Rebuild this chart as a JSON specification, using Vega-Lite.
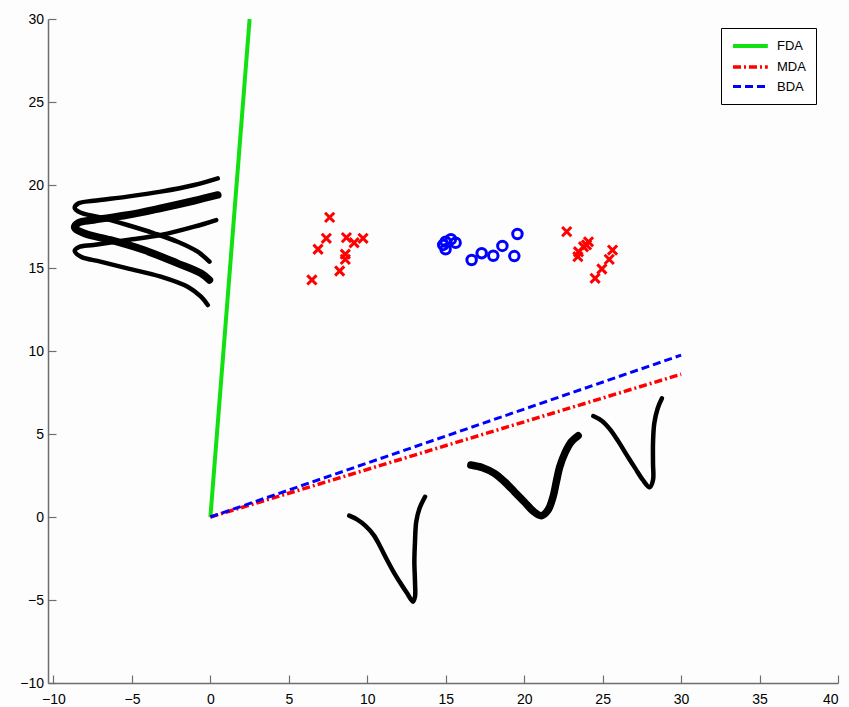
{
  "$schema": "https://vega.github.io/schema/vega-lite/v6.json",
  "width": 790,
  "height": 664,
  "autosize": {"type": "none"},
  "padding": {"left": 48, "top": 19, "right": 11, "bottom": 24},
  "background": "#fdfdfd",
  "config": {
    "view": {"stroke": null},
    "axis": {
      "grid": false,
      "domainColor": "#6e6e6e",
      "domainWidth": 1.5,
      "tickColor": "#6e6e6e",
      "tickWidth": 1.2,
      "tickSize": -8,
      "labelFont": "Liberation Sans",
      "labelFontSize": 14,
      "labelColor": "#000000",
      "title": null
    },
    "legend": {
      "labelFont": "Liberation Sans",
      "labelFontSize": 13,
      "labelColor": "#000000"
    }
  },
  "datasets": {
    "curves": [
      {"curve": "A", "i": 0, "x": 0.47, "y": 20.40},
      {"curve": "A", "i": 1, "x": -1.03, "y": 20.00},
      {"curve": "A", "i": 2, "x": -3.16, "y": 19.60},
      {"curve": "A", "i": 3, "x": -5.29, "y": 19.30},
      {"curve": "A", "i": 4, "x": -7.44, "y": 19.05},
      {"curve": "A", "i": 5, "x": -8.40, "y": 18.90},
      {"curve": "A", "i": 6, "x": -8.65, "y": 18.62},
      {"curve": "A", "i": 7, "x": -8.25, "y": 18.33},
      {"curve": "A", "i": 8, "x": -7.01, "y": 18.05},
      {"curve": "A", "i": 9, "x": -5.29, "y": 17.59},
      {"curve": "A", "i": 10, "x": -3.59, "y": 17.09},
      {"curve": "A", "i": 11, "x": -2.09, "y": 16.58},
      {"curve": "A", "i": 12, "x": -0.81, "y": 15.98},
      {"curve": "A", "i": 13, "x": -0.06, "y": 15.38},
      {"curve": "B", "i": 0, "x": 0.47, "y": 19.40},
      {"curve": "B", "i": 1, "x": -1.03, "y": 19.05},
      {"curve": "B", "i": 2, "x": -3.16, "y": 18.60},
      {"curve": "B", "i": 3, "x": -5.29, "y": 18.19},
      {"curve": "B", "i": 4, "x": -7.44, "y": 17.89},
      {"curve": "B", "i": 5, "x": -8.40, "y": 17.73},
      {"curve": "B", "i": 6, "x": -8.65, "y": 17.45},
      {"curve": "B", "i": 7, "x": -8.05, "y": 17.09},
      {"curve": "B", "i": 8, "x": -6.37, "y": 16.69},
      {"curve": "B", "i": 9, "x": -4.23, "y": 16.08},
      {"curve": "B", "i": 10, "x": -2.09, "y": 15.28},
      {"curve": "B", "i": 11, "x": -0.60, "y": 14.68},
      {"curve": "B", "i": 12, "x": -0.06, "y": 14.28},
      {"curve": "C", "i": 0, "x": 0.37, "y": 17.89},
      {"curve": "C", "i": 1, "x": -1.03, "y": 17.49},
      {"curve": "C", "i": 2, "x": -3.16, "y": 16.99},
      {"curve": "C", "i": 3, "x": -5.29, "y": 16.69},
      {"curve": "C", "i": 4, "x": -7.44, "y": 16.39},
      {"curve": "C", "i": 5, "x": -8.40, "y": 16.25},
      {"curve": "C", "i": 6, "x": -8.65, "y": 16.02},
      {"curve": "C", "i": 7, "x": -8.25, "y": 15.68},
      {"curve": "C", "i": 8, "x": -7.01, "y": 15.38},
      {"curve": "C", "i": 9, "x": -5.29, "y": 14.98},
      {"curve": "C", "i": 10, "x": -3.16, "y": 14.48},
      {"curve": "C", "i": 11, "x": -1.45, "y": 13.87},
      {"curve": "C", "i": 12, "x": -0.60, "y": 13.27},
      {"curve": "C", "i": 13, "x": -0.17, "y": 12.77},
      {"curve": "D", "i": 0, "x": 8.85, "y": 0.08},
      {"curve": "D", "i": 1, "x": 9.34, "y": -0.14},
      {"curve": "D", "i": 2, "x": 9.87, "y": -0.52},
      {"curve": "D", "i": 3, "x": 10.41, "y": -1.09},
      {"curve": "D", "i": 4, "x": 10.83, "y": -1.79},
      {"curve": "D", "i": 5, "x": 11.26, "y": -2.59},
      {"curve": "D", "i": 6, "x": 11.69, "y": -3.33},
      {"curve": "D", "i": 7, "x": 12.12, "y": -3.99},
      {"curve": "D", "i": 8, "x": 12.54, "y": -4.60},
      {"curve": "D", "i": 9, "x": 12.91, "y": -5.10},
      {"curve": "D", "i": 10, "x": 13.04, "y": -4.80},
      {"curve": "D", "i": 11, "x": 13.04, "y": -3.90},
      {"curve": "D", "i": 12, "x": 13.00, "y": -2.69},
      {"curve": "D", "i": 13, "x": 13.04, "y": -1.49},
      {"curve": "D", "i": 14, "x": 13.12, "y": -0.28},
      {"curve": "D", "i": 15, "x": 13.33, "y": 0.52},
      {"curve": "D", "i": 16, "x": 13.68, "y": 1.22},
      {"curve": "E", "i": 0, "x": 16.60, "y": 3.13},
      {"curve": "E", "i": 1, "x": 17.35, "y": 2.97},
      {"curve": "E", "i": 2, "x": 18.10, "y": 2.63},
      {"curve": "E", "i": 3, "x": 18.74, "y": 2.13},
      {"curve": "E", "i": 4, "x": 19.38, "y": 1.52},
      {"curve": "E", "i": 5, "x": 20.03, "y": 0.89},
      {"curve": "E", "i": 6, "x": 20.56, "y": 0.36},
      {"curve": "E", "i": 7, "x": 21.09, "y": 0.08},
      {"curve": "E", "i": 8, "x": 21.52, "y": 0.42},
      {"curve": "E", "i": 9, "x": 21.84, "y": 1.22},
      {"curve": "E", "i": 10, "x": 22.05, "y": 2.13},
      {"curve": "E", "i": 11, "x": 22.27, "y": 3.03},
      {"curve": "E", "i": 12, "x": 22.59, "y": 3.84},
      {"curve": "E", "i": 13, "x": 23.01, "y": 4.54},
      {"curve": "E", "i": 14, "x": 23.44, "y": 4.90},
      {"curve": "F", "i": 0, "x": 24.40, "y": 6.08},
      {"curve": "F", "i": 1, "x": 24.94, "y": 5.80},
      {"curve": "F", "i": 2, "x": 25.47, "y": 5.28},
      {"curve": "F", "i": 3, "x": 26.01, "y": 4.54},
      {"curve": "F", "i": 4, "x": 26.54, "y": 3.73},
      {"curve": "F", "i": 5, "x": 27.08, "y": 2.93},
      {"curve": "F", "i": 6, "x": 27.56, "y": 2.23},
      {"curve": "F", "i": 7, "x": 27.99, "y": 1.79},
      {"curve": "F", "i": 8, "x": 28.21, "y": 2.23},
      {"curve": "F", "i": 9, "x": 28.21, "y": 3.23},
      {"curve": "F", "i": 10, "x": 28.21, "y": 4.44},
      {"curve": "F", "i": 11, "x": 28.29, "y": 5.64},
      {"curve": "F", "i": 12, "x": 28.51, "y": 6.55},
      {"curve": "F", "i": 13, "x": 28.78, "y": 7.15}
    ],
    "dirs": [
      {"method": "FDA", "x": 0, "y": 0},
      {"method": "FDA", "x": 2.5, "y": 30},
      {"method": "MDA", "x": 0, "y": 0},
      {"method": "MDA", "x": 30, "y": 8.6},
      {"method": "BDA", "x": 0, "y": 0},
      {"method": "BDA", "x": 30, "y": 9.75}
    ],
    "points": [
      {"cls": "neg", "x": 7.60, "y": 18.05},
      {"cls": "neg", "x": 7.39, "y": 16.79},
      {"cls": "neg", "x": 6.86, "y": 16.13},
      {"cls": "neg", "x": 8.67, "y": 16.83},
      {"cls": "neg", "x": 9.16, "y": 16.52},
      {"cls": "neg", "x": 9.73, "y": 16.79},
      {"cls": "neg", "x": 8.60, "y": 15.83},
      {"cls": "neg", "x": 8.60, "y": 15.52},
      {"cls": "neg", "x": 8.24, "y": 14.82},
      {"cls": "neg", "x": 6.47, "y": 14.28},
      {"cls": "neg", "x": 22.71, "y": 17.19},
      {"cls": "neg", "x": 24.10, "y": 16.58},
      {"cls": "neg", "x": 23.97, "y": 16.39},
      {"cls": "neg", "x": 23.78, "y": 16.28},
      {"cls": "neg", "x": 23.46, "y": 15.98},
      {"cls": "neg", "x": 23.42, "y": 15.68},
      {"cls": "neg", "x": 25.63, "y": 16.08},
      {"cls": "neg", "x": 25.42, "y": 15.52},
      {"cls": "neg", "x": 24.95, "y": 14.94},
      {"cls": "neg", "x": 24.52, "y": 14.38},
      {"cls": "pos", "x": 14.99, "y": 16.58},
      {"cls": "pos", "x": 15.33, "y": 16.73},
      {"cls": "pos", "x": 15.63, "y": 16.52},
      {"cls": "pos", "x": 14.99, "y": 16.13},
      {"cls": "pos", "x": 14.84, "y": 16.39},
      {"cls": "pos", "x": 16.65, "y": 15.48},
      {"cls": "pos", "x": 17.29, "y": 15.89},
      {"cls": "pos", "x": 18.03, "y": 15.74},
      {"cls": "pos", "x": 18.61, "y": 16.33},
      {"cls": "pos", "x": 19.57, "y": 17.05},
      {"cls": "pos", "x": 19.37, "y": 15.72}
    ]
  },
  "encoding": {
    "x": {"field": "x", "type": "quantitative", "scale": {"domain": [-10.35, 40], "nice": false, "zero": false},
          "axis": {"values": [-10, -5, 0, 5, 10, 15, 20, 25, 30, 35, 40], "labelPadding": 17.5}},
    "y": {"field": "y", "type": "quantitative", "scale": {"domain": [-10, 30], "nice": false, "zero": false},
          "axis": {"values": [-10, -5, 0, 5, 10, 15, 20, 25, 30], "labelPadding": 12.5}}
  },
  "layer": [
    {
      "data": {"name": "curves"},
      "transform": [{"filter": "datum.curve !== 'B' && datum.curve !== 'E'"}],
      "mark": {"type": "line", "color": "#000000", "strokeWidth": 4.5, "strokeCap": "round", "strokeJoin": "round", "interpolate": "catmull-rom"},
      "encoding": {"detail": {"field": "curve"}, "order": {"field": "i", "type": "quantitative"}}
    },
    {
      "data": {"name": "curves"},
      "transform": [{"filter": "datum.curve === 'B' || datum.curve === 'E'"}],
      "mark": {"type": "line", "color": "#000000", "strokeWidth": 7.5, "strokeCap": "round", "strokeJoin": "round", "interpolate": "catmull-rom"},
      "encoding": {"detail": {"field": "curve"}, "order": {"field": "i", "type": "quantitative"}}
    },
    {
      "data": {"name": "dirs"},
      "mark": {"type": "line"},
      "encoding": {
        "color": {"field": "method", "type": "nominal",
          "scale": {"domain": ["FDA", "MDA", "BDA"], "range": ["#11e011", "#ff0000", "#0000ff"]},
          "legend": {"title": null, "orient": "none", "legendX": 673, "legendY": 9,
            "symbolType": "M-1,0H4.8", "symbolSize": 144, "symbolStrokeWidth": 3,
            "strokeColor": "#000000", "fillColor": "#ffffff", "padding": 10, "rowPadding": 5, "labelOffset": 30}},
        "strokeDash": {"field": "method", "type": "nominal",
          "scale": {"domain": ["FDA", "MDA", "BDA"], "range": [[1, 0], [8, 3, 2, 3], [8, 4]]},
          "legend": {"title": null, "orient": "none", "legendX": 673, "legendY": 9,
            "symbolType": "M-1,0H4.8", "symbolSize": 144, "symbolStrokeWidth": 3,
            "strokeColor": "#000000", "fillColor": "#ffffff", "padding": 10, "rowPadding": 5, "labelOffset": 30}},
        "strokeWidth": {"field": "method", "type": "nominal",
          "scale": {"domain": ["FDA", "MDA", "BDA"], "range": [4, 3, 3]}, "legend": null},
        "order": {"field": "x", "type": "quantitative"}
      }
    },
    {
      "data": {"name": "points"},
      "mark": {"type": "point", "filled": false, "strokeWidth": 3, "opacity": 1},
      "encoding": {
        "shape": {"field": "cls", "type": "nominal",
          "scale": {"domain": ["neg", "pos"], "range": ["M-1,-1L1,1M1,-1L-1,1", "circle"]}, "legend": null},
        "stroke": {"field": "cls", "type": "nominal",
          "scale": {"domain": ["neg", "pos"], "range": ["#ff0000", "#0000ff"]}, "legend": null},
        "size": {"field": "cls", "type": "nominal",
          "scale": {"domain": ["neg", "pos"], "range": [84, 90]}, "legend": null}
      }
    }
  ]
}
